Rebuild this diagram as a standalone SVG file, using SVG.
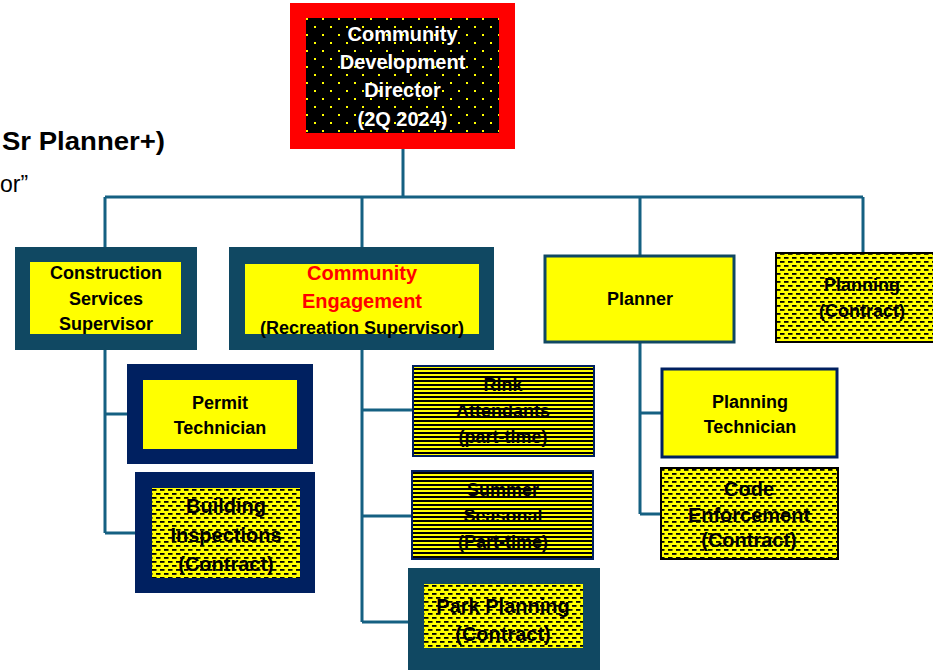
<svg xmlns="http://www.w3.org/2000/svg" width="933" height="670" viewBox="0 0 933 670">
<style>
text{font-family:"Liberation Sans",Arial,sans-serif;font-weight:bold;text-anchor:middle;fill:#000}
.t18{font-size:18px}
.t20{font-size:20px}
.w{fill:#fff;font-size:20px}
.red{fill:#ff0000;font-size:20px}
.conn{fill:none;stroke:#156082;stroke-width:3}
.teal{fill:#104862}
.navy{fill:#002060}
.yel{fill:#ffff00}
</style>
<defs>
<pattern id="dots" width="16" height="16" patternUnits="userSpaceOnUse">
<rect width="16" height="16" fill="#000"/>
<rect x="2" y="2" width="2" height="2" fill="#ffff00"/>
<rect x="10" y="10" width="2" height="2" fill="#ffff00"/>
</pattern>
<pattern id="dash" width="8" height="8" patternUnits="userSpaceOnUse">
<rect width="8" height="8" fill="#ffff00"/>
<rect x="0" y="1" width="4.5" height="1.8" fill="#000"/>
<rect x="4" y="5" width="4" height="1.8" fill="#000"/>
<rect x="0" y="5" width="0.5" height="1.8" fill="#000"/>
</pattern>
<pattern id="stripe" width="8" height="4" patternUnits="userSpaceOnUse">
<rect width="8" height="4" fill="#ffff00"/>
<rect y="0" width="8" height="2" fill="#000"/>
</pattern>
</defs>

<text x="2" y="150" style="font-size:26px;text-anchor:start" textLength="163" lengthAdjust="spacingAndGlyphs">Sr Planner+)</text>
<text x="0" y="192" style="font-size:23px;font-weight:normal;text-anchor:start">or”</text>

<g id="connectors">
<path class="conn" d="M403 149V197M105 197H863M105 197V247M362 197V247M640 197V256M863 197V253"/>
<path class="conn" d="M105 350V533M105 414H127M105 533H135"/>
<path class="conn" d="M362 350V622M362 410H413M362 516H412M362 622H408"/>
<path class="conn" d="M640 342V514M640 413H662M640 514H661"/>
</g>

<g id="director">
<rect x="290" y="3" width="225" height="146" fill="#ff0000"/>
<rect x="306" y="18" width="193" height="115" fill="url(#dots)"/>
<text class="w" x="402.5" y="41">Community</text>
<text class="w" x="402.5" y="69">Development</text>
<text class="w" x="402.5" y="97">Director</text>
<text class="w" x="402.5" y="126">(2Q 2024)</text>
</g>

<g id="construction">
<rect class="teal" x="15" y="247" width="182" height="103"/>
<rect class="yel" x="30" y="262" width="151" height="72"/>
<text class="t18" x="106" y="279">Construction</text>
<text class="t18" x="106" y="305">Services</text>
<text class="t18" x="106" y="330">Supervisor</text>
</g>

<g id="engagement">
<rect class="teal" x="229" y="247" width="265" height="103"/>
<rect class="yel" x="245" y="264" width="234" height="70"/>
<text class="red" x="362" y="280">Community</text>
<text class="red" x="362" y="308">Engagement</text>
<text class="t18" x="362" y="334">(Recreation Supervisor)</text>
</g>

<g id="planner">
<rect x="545" y="256" width="189" height="86" fill="#ffff00" stroke="#104862" stroke-width="3"/>
<text class="t18" x="640" y="305">Planner</text>
</g>

<g id="planning-contract">
<rect x="776" y="253" width="160" height="89" fill="url(#dash)" stroke="#000" stroke-width="2"/>
<text class="t18" x="862" y="291">Planning</text>
<text class="t18" x="862" y="317">(Contract)</text>
</g>

<g id="permit">
<rect class="navy" x="127" y="364" width="186" height="100"/>
<rect class="yel" x="143" y="380" width="154" height="69"/>
<text class="t18" x="220" y="409">Permit</text>
<text class="t18" x="220" y="434">Technician</text>
</g>

<g id="building">
<rect class="navy" x="135" y="472" width="180" height="121"/>
<rect x="152" y="488" width="148" height="90" fill="url(#dash)"/>
<text class="t20" x="226" y="513">Building</text>
<text class="t20" x="226" y="542">Inspections</text>
<text class="t20" x="226" y="571">(Contract)</text>
</g>

<g id="rink">
<rect x="413" y="366" width="181" height="90" fill="url(#stripe)" stroke="#002060" stroke-width="2"/>
<text class="t18" x="503" y="391">Rink</text>
<text class="t18" x="503" y="417">Attendants</text>
<text class="t18" x="503" y="443">(part-time)</text>
</g>

<g id="summer">
<rect x="412" y="471" width="181" height="88" fill="url(#stripe)" stroke="#002060" stroke-width="2"/>
<text class="t18" x="503" y="496">Summer</text>
<text class="t18" x="503" y="522">Seasonal</text>
<text class="t18" x="503" y="548">(Part-time)</text>
</g>

<g id="park">
<rect class="teal" x="408" y="568" width="192" height="104"/>
<rect x="424" y="584" width="159" height="64" fill="url(#dash)"/>
<text class="t20" x="503" y="613">Park Planning</text>
<text class="t20" x="503" y="641">(Contract)</text>
</g>

<g id="planning-tech">
<rect x="662" y="369" width="175" height="88" fill="#ffff00" stroke="#002060" stroke-width="3"/>
<text class="t18" x="750" y="408">Planning</text>
<text class="t18" x="750" y="433">Technician</text>
</g>

<g id="code">
<rect x="661" y="468" width="177" height="91" fill="url(#dash)" stroke="#000" stroke-width="2"/>
<text class="t20" x="749" y="496">Code</text>
<text class="t20" x="749" y="522">Enforcement</text>
<text class="t20" x="749" y="547">(Contract)</text>
</g>
</svg>
